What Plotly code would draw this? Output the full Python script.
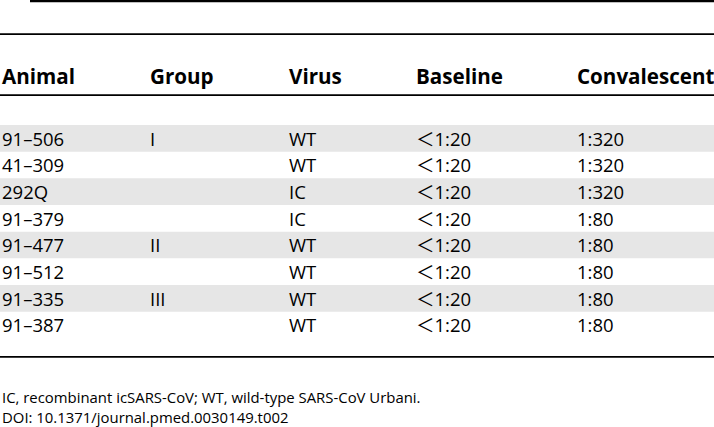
import plotly.graph_objects as go

headers = ["Animal", "Group", "Virus", "Baseline", "Convalescent"]
animals = ["91–506", "41–309", "292Q", "91–379", "91–477", "91–512", "91–335", "91–387"]
groups = ["I", "", "", "", "II", "", "III", ""]
viruses = ["WT", "WT", "IC", "IC", "WT", "WT", "WT", "WT"]
baseline = ["＜1:20"] * 8
convalescent = ["1:320", "1:320", "1:320", "1:80", "1:80", "1:80", "1:80", "1:80"]
footnotes = ["IC, recombinant icSARS-CoV; WT, wild-type SARS-CoV Urbani.",
             "DOI: 10.1371/journal.pmed.0030149.t002"]

W, H = 714, 427
col_x = [0, 148, 287, 414, 575]
row0, pitch = 138.3, 26.67
header_y = 76
font = "Open Sans, Noto Sans CJK SC"

columns = [animals, groups, viruses, baseline, convalescent]

fig = go.Figure()
shapes = []
# shaded bands
for i in range(len(animals)):
    if i % 2 == 0:
        yc = row0 + i * pitch
        shapes.append(dict(type="rect", xref="x", yref="y", x0=0, x1=W,
                           y0=yc - pitch / 2, y1=yc + pitch / 2,
                           fillcolor="#e6e6e6", line=dict(width=0), layer="below"))
# rules
shapes.append(dict(type="line", xref="x", yref="y", x0=30, x1=W, y0=0.8, y1=0.8,
                   line=dict(color="black", width=3)))
for y, w in [(34.2, 1.8), (95.2, 1.8), (356.8, 1.8)]:
    shapes.append(dict(type="line", xref="x", yref="y", x0=0, x1=W, y0=y, y1=y,
                       line=dict(color="black", width=w)))

annotations = []
for x, h in zip(col_x, headers):
    annotations.append(dict(x=x, y=header_y, xref="x", yref="y", text="<b>%s</b>" % h,
                            showarrow=False, xanchor="left", yanchor="middle",
                            font=dict(family=font, size=20.6, color="black")))
for x, col in zip(col_x, columns):
    for i, v in enumerate(col):
        if not v:
            continue
        annotations.append(dict(x=x, y=row0 + i * pitch, xref="x", yref="y",
                                text=v,
                                showarrow=False, xanchor="left", yanchor="middle",
                                font=dict(family=font, size=18.5, color="black")))
for j, t in enumerate(footnotes):
    annotations.append(dict(x=0, y=397 + j * 20, xref="x", yref="y", text=t,
                            showarrow=False, xanchor="left", yanchor="middle",
                            font=dict(family=font, size=14.9, color="black")))

fig.add_trace(go.Scatter(x=[0, W], y=[0, H], mode="markers", marker=dict(opacity=0),
                         hoverinfo="skip", showlegend=False))
fig.update_layout(width=W, height=H, margin=dict(l=0, r=0, t=0, b=0),
                  paper_bgcolor="white", plot_bgcolor="white",
                  xaxis=dict(range=[0, W], visible=False, fixedrange=True),
                  yaxis=dict(range=[H, 0], visible=False, fixedrange=True),
                  shapes=shapes, annotations=annotations, showlegend=False)
fig.write_html("out.html", config={"displayModeBar": False},
               post_script="document.body.style.margin='0';document.body.style.overflow='hidden';")
